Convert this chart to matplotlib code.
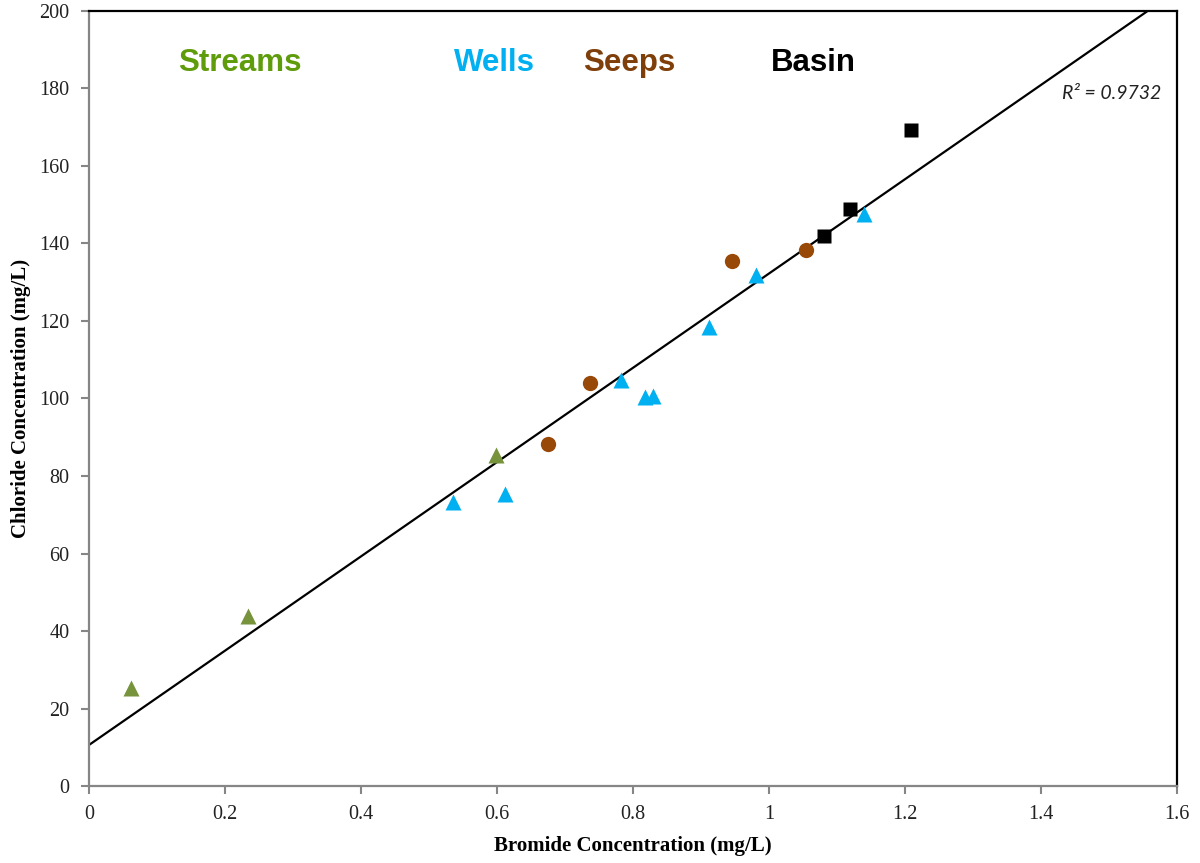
import numpy as np
import matplotlib
matplotlib.use("Agg")
import matplotlib.pyplot as plt

# bromide (mg/L) vs chloride (mg/L) by sample type
streams_br = [0.062, 0.234, 0.599]
streams_cl = [25.3, 43.9, 85.4]

wells_br = [0.535, 0.611, 0.782, 0.817, 0.829, 0.912, 0.981, 1.140]
wells_cl = [73.3, 75.4, 104.8, 100.4, 100.6, 118.5, 131.9, 147.6]

seeps_br = [0.675, 0.736, 0.946, 1.054]
seeps_cl = [88.3, 104.0, 135.5, 138.3]

basin_br = [1.081, 1.119, 1.208]
basin_cl = [141.9, 148.9, 169.3]

r2_label = "R² = 0.9732"

fig = plt.figure(figsize=(12, 8.63), dpi=100)
ax = fig.add_axes([0.0742, 0.0892, 0.9068, 0.8981])

# linear trend through every sample
all_br = np.array(streams_br + wells_br + seeps_br + basin_br)
all_cl = np.array(streams_cl + wells_cl + seeps_cl + basin_cl)
slope, icpt = np.polyfit(all_br, all_cl, 1)
xs = np.array([0, 1.6])
ax.plot(xs, slope * xs + icpt, color="black", lw=1.6, zorder=2)

ax.plot(streams_br, streams_cl, "^", ms=11, color="#77933c", mec="none", zorder=3)
ax.plot(wells_br, wells_cl, "^", ms=11, color="#00b0f0", mec="none", zorder=3)
ax.plot(seeps_br, seeps_cl, "o", ms=11, color="#984807", mec="none", zorder=3)
ax.plot(basin_br, basin_cl, "s", ms=10, color="black", mec="none", zorder=3)

grp = dict(fontsize=22.5, fontweight="bold", family="Liberation Sans", ha="center", va="center")
ax.text(0.222, 186.6, "Streams", color="#5f9c0c", **grp)
ax.text(0.596, 186.6, "Wells", color="#00b0f0", **grp)
ax.text(0.794, 186.6, "Seeps", color="#7f3f0b", **grp)
ax.text(1.065, 186.6, "Basin", color="black", **grp)

ax.text(1.576, 178.6, r2_label, fontsize=14, style="italic", family="Lato",
        color="#222222", ha="right", va="center")

ax.set_xlim(0, 1.6)
ax.set_ylim(0, 200)
ax.set_xticks(np.arange(0, 1.61, 0.2))
ax.set_xticklabels(["0", "0.2", "0.4", "0.6", "0.8", "1", "1.2", "1.4", "1.6"])
ax.set_yticks(np.arange(0, 201, 20))

for lab in ax.get_xticklabels() + ax.get_yticklabels():
    lab.set_family("Liberation Serif")
    lab.set_fontsize(14.5)
    lab.set_color("#222222")

ax.tick_params(direction="out", length=6, width=1.5, color="#868686", pad=8)

for side in ("left", "bottom"):
    ax.spines[side].set_color("#868686")
    ax.spines[side].set_linewidth(1.6)
for side in ("top", "right"):
    ax.spines[side].set_color("black")
    ax.spines[side].set_linewidth(1.6)

ax.set_xlabel("Bromide Concentration (mg/L)", family="Liberation Serif",
              fontweight="bold", fontsize=15, labelpad=8)
ax.set_ylabel("Chloride Concentration (mg/L)", family="Liberation Serif",
              fontweight="bold", fontsize=15, labelpad=6)

fig.savefig("out.png", dpi=100)
